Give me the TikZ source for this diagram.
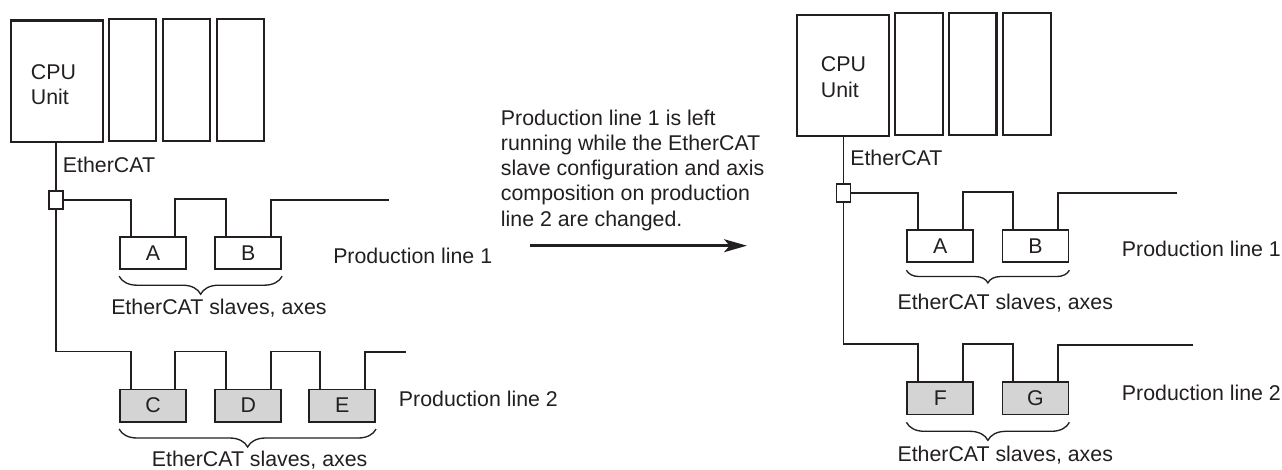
\documentclass[tikz,border=0pt]{standalone}
\usepackage{fontspec}
\setmainfont{Liberation Sans}
\usetikzlibrary{calc,arrows.meta,decorations.pathreplacing}
\definecolor{ink}{HTML}{231F20}
\definecolor{slavegray}{HTML}{D4D4D4}
\newcommand{\lbl}{\fontsize{16}{19}\selectfont}
\begin{document}
\begin{tikzpicture}[x=0.75pt,y=-0.75pt,
  box/.style={draw=ink, line width=1.6pt, inner sep=0pt},
  cpubox/.style={box, minimum width=69pt, minimum height=91pt},
  slotbox/.style={box, minimum width=35.5pt, minimum height=91.3pt},
  jbox/.style={box, line width=1.3pt, minimum width=10.5pt, minimum height=14pt},
  slavebox/.style={box, line width=1.3pt, minimum width=49.5pt, minimum height=24.2pt, font=\lbl, text=ink},
  newslave/.style={slavebox, fill=slavegray},
  wire/.style={draw=ink, line width=1.45pt},
  txt/.style={font=\lbl, text=ink, inner sep=0pt, anchor=base west},
  brc/.style={draw=ink, line width=1pt, decorate, decoration={brace, mirror, amplitude=#1}},
  brc/.default=13.5pt]
\useasboundingbox (0,0) rectangle (1282,469);

% ---------------- left diagram ----------------
\node[cpubox] (cpuL) at (56.7,81.2) {};
\node[slotbox] (s1L) at (132.3,79.9) {};
\node[slotbox] (s2L) at (186.3,79.9) {};
\node[slotbox] (s3L) at (240.5,79.9) {};
\node[txt] (cpuLt) at (30.7,79) {CPU};
\node[txt] (cpuLu) at (30.7,104) {Unit};
\node[jbox] (jL) at (56.3,200) {};
\node[txt] (ecL) at (62.7,172) {EtherCAT};
\draw[wire] (cpuL.south -| jL.north) -- (jL.north);

\node[slavebox] (A) at (153,253.2) {A};
\node[slavebox] (B) at (248.3,253.2) {B};
\node[newslave] (C) at (153,405.5) {C};
\node[newslave] (D) at (248.3,405.5) {D};
\node[newslave] (E) at (342.2,405.5) {E};
\coordinate (endL1) at (389.3,200);
\coordinate (endL2) at (406,352);

\draw[wire] (jL.east) -| ($(A.north west)+(11.5,0)$);
\draw[wire] ($(A.north east)+(-11.5,0)$) -- ++(0,-37) -| ($(B.north west)+(11.5,0)$);
\draw[wire] ($(B.north east)+(-11.5,0)$) |- (endL1);
\draw[wire] (jL.south) |- ($(C.north west)+(11.5,-37)$) -- ($(C.north west)+(11.5,0)$);
\draw[wire] ($(C.north east)+(-11.5,0)$) -- ++(0,-37) -| ($(D.north west)+(11.5,0)$);
\draw[wire] ($(D.north east)+(-11.5,0)$) -- ++(0,-37) -| ($(E.north west)+(11.5,0)$);
\draw[wire] ($(E.north east)+(-11.5,0)$) |- (endL2);

\draw[brc] ($(A.south west)+(0,6)$) -- ($(B.south east)+(0,6)$);
\draw[brc] ($(C.south west)+(0,6.5)$) -- ($(E.south east)+(0,6.5)$);
\node[txt] (slL1) at (111,314.5) {EtherCAT slaves, axes};
\node[txt] (slL2) at (151.7,466) {EtherCAT slaves, axes};
\node[txt] (plL1) at (333,263) {Production line 1};
\node[txt] (plL2) at (398.7,406.5) {Production line 2};

% ---------------- middle ----------------
\node[txt] (m1) at (500.7,125) {Production line 1 is left};
\node[txt] (m2) at (500.7,150.3) {running while the EtherCAT};
\node[txt] (m3) at (500.7,175.6) {slave configuration and axis};
\node[txt] (m4) at (500.7,200.9) {composition on production};
\node[txt] (m5) at (500.7,226.2) {line 2 are changed.};
\coordinate (arS) at (530,245.7);
\coordinate (arE) at (747,245.7);
\draw[draw=ink, line width=2.6pt, -{Stealth[length=17pt,width=9.5pt,inset=4pt]}] (arS) -- (arE);

% ---------------- right diagram ----------------
\node[cpubox] (cpuR) at (843.3,75.3) {};
\node[slotbox] (s1R) at (919,74.2) {};
\node[slotbox] (s2R) at (972.8,74.2) {};
\node[slotbox] (s3R) at (1027,74.2) {};
\node[txt] (cpuRt) at (820.7,71.7) {CPU};
\node[txt] (cpuRu) at (820.7,97.2) {Unit};
\node[jbox] (jR) at (843.5,193) {};
\node[txt] (ecR) at (850,165.5) {EtherCAT};
\draw[wire] (cpuR.south -| jR.north) -- (jR.north);

\node[slavebox] (A2) at (940.3,246.2) {A};
\node[slavebox] (B2) at (1035.5,246.2) {B};
\node[newslave] (F) at (940.3,398.3) {F};
\node[newslave] (G) at (1035.5,398.3) {G};
\coordinate (endR1) at (1176.7,192.7);
\coordinate (endR2) at (1193.3,345.3);

\draw[wire] (jR.east) -| ($(A2.north west)+(11.5,0)$);
\draw[wire] ($(A2.north east)+(-11.5,0)$) -- ++(0,-37) -| ($(B2.north west)+(11.5,0)$);
\draw[wire] ($(B2.north east)+(-11.5,0)$) |- (endR1);
\draw[wire] (jR.south) |- ($(F.north west)+(11.5,-37)$) -- ($(F.north west)+(11.5,0)$);
\draw[wire] ($(F.north east)+(-11.5,0)$) -- ++(0,-37) -| ($(G.north west)+(11.5,0)$);
\draw[wire] ($(G.north east)+(-11.5,0)$) |- (endR2);

\draw[brc=9.5pt] ($(A2.south west)+(0,7)$) -- ($(B2.south east)+(0,7)$);
\draw[brc] ($(F.south west)+(0,7)$) -- ($(G.south east)+(0,7)$);
\node[txt] (slR1) at (897.3,309) {EtherCAT slaves, axes};
\node[txt] (slR2) at (897.3,461) {EtherCAT slaves, axes};
\node[txt] (plR1) at (1121.7,256) {Production line 1};
\node[txt] (plR2) at (1121.7,400.5) {Production line 2};
\end{tikzpicture}
\end{document}
